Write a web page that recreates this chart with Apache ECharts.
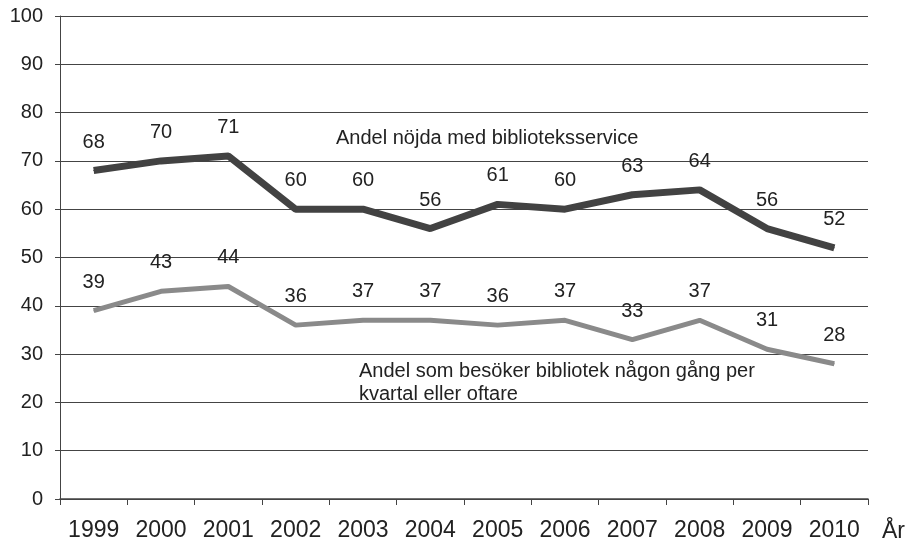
<!DOCTYPE html>
<html>
<head>
<meta charset="utf-8">
<script src="https://cdn.jsdelivr.net/npm/echarts@6/dist/echarts.min.js"></script>
<style>
  html, body { margin: 0; padding: 0; background: #fff; }
  #main { width: 909px; height: 543px; }
</style>
</head>
<body>
<div id="main"></div>
<script>
var years = ['1999', '2000', '2001', '2002', '2003', '2004', '2005', '2006', '2007', '2008', '2009', '2010'];
// andel nöjda med biblioteksservice
var nojda = [68, 70, 71, 60, 60, 56, 61, 60, 63, 64, 56, 52];
// andel som besöker bibliotek minst en gång per kvartal
var besoker = [39, 43, 44, 36, 37, 37, 36, 37, 33, 37, 31, 28];
var yTicks = [0, 100, 10]; // min, max, interval

var font = 'Liberation Sans, Arial, Helvetica, sans-serif';
var myChart = echarts.init(document.getElementById('main'));

var option = {
    backgroundColor: '#fff',
    animation: false,
    grid: { left: 60, right: 41, top: 16, bottom: 42 },
    xAxis: {
        type: 'category',
        data: years,
        boundaryGap: true,
        name: 'År',
        nameLocation: 'end',
        nameGap: 14,
        nameTextStyle: { color: '#222', fontSize: 23, fontFamily: font, verticalAlign: 'top', padding: [21, 0, 0, 0] },
        axisLine: { lineStyle: { color: '#444', width: 1.5 } },
        axisTick: { show: true, length: 6, alignWithLabel: false, lineStyle: { color: '#444' } },
        axisLabel: { color: '#222', fontSize: 23, fontFamily: font, margin: 20 }
    },
    yAxis: {
        type: 'value',
        min: yTicks[0],
        max: yTicks[1],
        interval: yTicks[2],
        axisLine: { show: true, lineStyle: { color: '#444', width: 1 } },
        axisTick: { show: true, length: 5, lineStyle: { color: '#444' } },
        axisLabel: { color: '#222', fontSize: 20, fontFamily: font, margin: 17 },
        splitLine: { show: true, lineStyle: { color: '#444', width: 1 } }
    },
    series: [
        {
            name: 'Andel nöjda med biblioteksservice',
            type: 'line',
            data: nojda,
            symbol: 'circle',
            symbolSize: 1,
            itemStyle: { color: '#424242' },
            lineStyle: { color: '#424242', width: 7 },
            label: {
                show: true, position: 'top', distance: 18,
                color: '#222', fontSize: 20, fontFamily: font
            }
        },
        {
            name: 'Andel som besöker bibliotek',
            type: 'line',
            data: besoker,
            symbol: 'circle',
            symbolSize: 1,
            itemStyle: { color: '#8a8a8a' },
            lineStyle: { color: '#8a8a8a', width: 5 },
            label: {
                show: true, position: 'top', distance: 18,
                color: '#222', fontSize: 20, fontFamily: font
            }
        }
    ],
    graphic: [
        {
            type: 'text', left: 336, top: 128,
            style: { text: 'Andel nöjda med biblioteksservice', fill: '#222', font: '20px ' + font }
        },
        {
            type: 'text', left: 359, top: 360,
            style: { text: 'Andel som besöker bibliotek någon gång per\nkvartal eller oftare', fill: '#222', font: '20px ' + font, lineHeight: 23 }
        }
    ]
};
myChart.setOption(option);
</script>
</body>
</html>
